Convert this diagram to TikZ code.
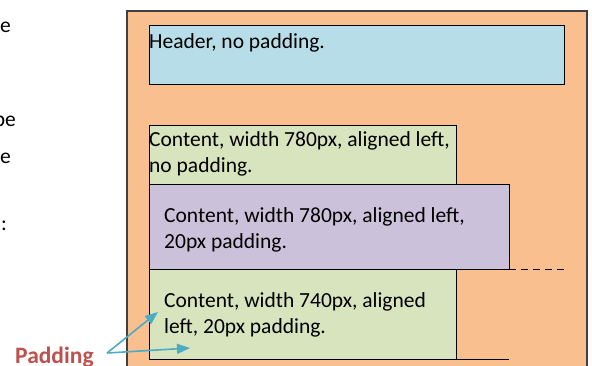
\documentclass[tikz,border=0pt]{standalone}
\usepackage{fontspec}
\setmainfont{Carlito}
\usetikzlibrary{arrows.meta}

\definecolor{pagefill}{HTML}{F9BF8F}
\definecolor{headerfill}{HTML}{B7DDE8}
\definecolor{contentfill}{HTML}{D7E4BD}
\definecolor{paddedfill}{HTML}{CCC1DA}
\definecolor{pointer}{HTML}{4BACC6}
\definecolor{labelred}{HTML}{C0504D}
\definecolor{frame}{HTML}{404040}

\tikzset{
  block/.style={draw=black, line width=0.9pt, anchor=north west, inner sep=0pt, outer sep=0pt},
  boxtext/.style={font=\fontsize{21.5}{26}\selectfont, inner sep=0pt, align=left, anchor=north west},
  sidetext/.style={font=\fontsize{21.5}{26}\selectfont, inner sep=0pt, anchor=base east},
  pointerline/.style={draw=pointer, line width=1.6pt, -{Triangle[length=13pt,width=10pt]}}
}

\begin{document}
\begin{tikzpicture}[x=1pt, y=-1pt]
\useasboundingbox (0,0) rectangle (592,365);
\clip (0,0) rectangle (592,365);

% page container
\node[block, draw=frame, line width=1.4pt, fill=pagefill,
      minimum width=460pt, minimum height=400pt] (page) at (127,11) {};

% header
\node[block, fill=headerfill, minimum width=415pt, minimum height=59pt] (hdr) at (149,25) {};
\node[boxtext] (hdrtxt) at ([yshift=-8pt]hdr.north west) {Header, no padding.};

% first content block, no padding
\node[block, fill=contentfill, minimum width=307pt, minimum height=59pt] (c1) at (149,125) {};
\node[boxtext] (c1txt) at ([yshift=-6.5pt]c1.north west) {Content, width 780px, aligned left,\\no padding.};

% padded content block
\node[block, fill=paddedfill, minimum width=360pt, minimum height=85pt] (c2) at (149,184) {};
\node[boxtext] (c2txt) at ([xshift=15pt,yshift=-23.5pt]c2.north west) {Content, width 780px, aligned left,\\20px padding.};

% narrower content block
\node[block, fill=contentfill, minimum width=307pt, minimum height=90pt] (c3) at (149,269) {};
\node[boxtext] (c3txt) at ([xshift=15pt,yshift=-23.5pt]c3.north west) {Content, width 740px, aligned\\left, 20px padding.};

% guide lines
\coordinate (dashend) at (564,269);
\draw[black, line width=0.8pt, dash pattern=on 7pt off 5pt] (c2.south east) -- (dashend);
\coordinate (baseend) at (509,359);
\draw[black, line width=0.9pt] (c3.south west) -- (baseend);

% clipped words at the left edge
\node[sidetext] (w1) at (11,32) {e};
\node[sidetext] (w2) at (16,126) {be};
\node[sidetext] (w3) at (11,163) {e};
\node[sidetext] (w4) at (7,230) {:};

% padding label and pointers
\node[font=\fontsize{23.5}{28}\selectfont\bfseries, text=labelred, inner sep=0pt, anchor=base west] (padlbl) at (15,363) {Padding};
\coordinate (padstart) at (107,353);
\coordinate (tip1) at (158,312);
\coordinate (tip2) at (190,348);
\draw[pointerline] (padstart) -- (tip1);
\draw[pointerline] (padstart) -- (tip2);
\end{tikzpicture}
\end{document}
